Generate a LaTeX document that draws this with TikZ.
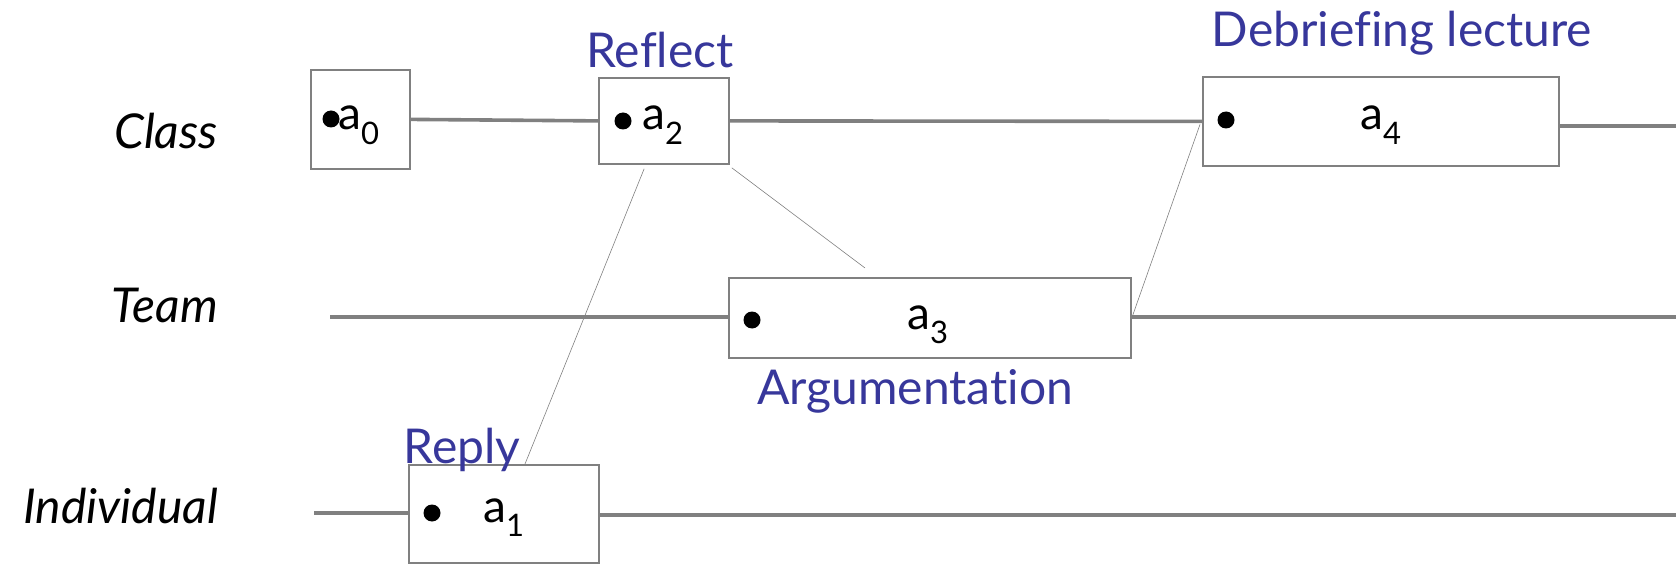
\documentclass[tikz,border=0pt]{standalone}
\usepackage{fontspec}
\setmainfont{Lato}[Ligatures={CommonOff}]
\usetikzlibrary{calc}
\definecolor{lblue}{RGB}{55,55,155}
\definecolor{lgray}{RGB}{128,128,128}
\tikzset{
  box/.style={draw=lgray, line width=1.8pt, anchor=north west, inner sep=0pt},
  life/.style={draw=lgray, line width=3.6pt},
  link/.style={draw=lgray, line width=0.6pt},
  lbl/.style={text=lblue, font=\fontsize{48}{52}\selectfont, anchor=base, inner sep=0pt},
  rowlbl/.style={font=\fontsize{48}{52}\selectfont\itshape, anchor=base east, inner sep=0pt},
  actdot/.style={circle, fill=black, minimum size=17pt, inner sep=0pt},
  actlbl/.style={font=\fontsize{46}{50}\selectfont, anchor=base west, inner sep=0pt},
}
\newcommand{\actname}[1]{a\raisebox{-0.32em}{\fontsize{31}{33}\selectfont #1}}
\begin{document}
\begin{tikzpicture}[x=1pt,y=-1pt]
\useasboundingbox (0,0) rectangle (1679,564);

% row labels
\node[rowlbl] (rc) at (218,149) {Class};
\node[rowlbl] (rt) at (218,322) {Team};
\node[rowlbl] (ri) at (218,523) {Individual};

% boxes
\node[box, minimum width=99pt, minimum height=99pt] (b0) at (310,69) {};
\node[box, minimum width=130pt, minimum height=86pt] (b2) at (598,77) {};
\node[box, minimum width=356pt, minimum height=89pt] (b4) at (1202,76) {};
\node[box, minimum width=402pt, minimum height=80pt] (b3) at (728,277) {};
\node[box, minimum width=190pt, minimum height=98pt] (b1) at (408,464) {};

% dots
\node[actdot] (d0) at (331,119) {};
\node[actdot] (d2) at (623,121) {};
\node[actdot] (d4) at (1226,120) {};
\node[actdot] (d3) at (752,320) {};
\node[actdot] (d1) at (432,513) {};

% activity names
\node[actlbl] (t0) at (338,130) {\actname{0}};
\node[actlbl] (t2) at (642,130) {\actname{2}};
\node[actlbl] (t4) at (1360,130) {\actname{4}};
\node[actlbl] (t3) at (907,329) {\actname{3}};
\node[actlbl] (t1) at (483,522) {\actname{1}};

% blue labels
\node[lbl] (lr) at (660,68) {Reflect};
\node[lbl] (ld) at (1402,47) {Debriefing lecture};
\node[lbl] (la) at (915,404) {Argumentation};
\node[lbl] (lp) at (462,463) {Reply};

% lifeline ends
\coordinate (ce) at (1676,126);
\coordinate (ts) at (330,317);
\coordinate (te) at (1676,317);
\coordinate (is) at (314,513);
\coordinate (ie) at (1676,515);
\coordinate (fe) at (865,268);

% lifelines
\draw[life] (b0.east) -- (b2.west);
\draw[life] (b2.east) -- (b4.west);
\draw[life] (b4.east |- ce) -- (ce);
\draw[life] (ts) -- (b3.west |- ts);
\draw[life] (b3.east |- te) -- (te);
\draw[life] (is) -- (b1.west |- is);
\draw[life] (b1.east |- ie) -- (ie);

% thin links
\draw[link] ($(b2.south west)!0.35!(b2.south east)+(0,4)$) -- ($(b1.north west)!0.61!(b1.north east)$);
\draw[link] ($(b2.south east)+(2,3)$) -- (fe);
\draw[link] (b3.east) -- ($(b4.west)+(-2,3)$);
\end{tikzpicture}
\end{document}
